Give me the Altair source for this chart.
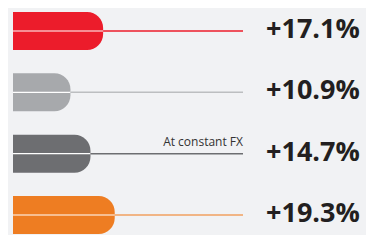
import altair as alt
import pandas as pd

categories = ["A", "B", "C", "D"]
values = [17.1, 10.9, 14.7, 19.3]
notes = ["", "", "At constant FX", ""]
bar_colors = ["#ec1c2b", "#a7a9ac", "#6d6e71", "#ee7d22"]
line_colors = ["#ec1c2b", "#bcbec0", "#6d6e71", "#f0a060"]

df = pd.DataFrame({
    "cat": categories,
    "value": values,
    "note": notes,
    "bar_color": bar_colors,
    "line_color": line_colors,
    "zero": [0] * len(values),
})

# 5.27 px per percentage point, bars starting 5 px from the left edge
x_scale = alt.Scale(domain=[-0.95, 66.98], nice=False, zero=False)
y_scale = alt.Scale(type="point", domain=categories, range=[23, 207], padding=0)

base = alt.Chart(df).encode(
    y=alt.Y("cat:N", scale=y_scale, axis=None),
)

bars = base.mark_bar(height=38, cornerRadiusTopRight=16, cornerRadiusBottomRight=16).encode(
    x=alt.X("zero:Q", scale=x_scale, axis=None),
    x2="value:Q",
    color=alt.Color("bar_color:N", scale=None),
)

inner = base.mark_rule(color="#ffffff", strokeWidth=1.2).encode(
    x=alt.X("zero:Q", scale=x_scale, axis=None),
    x2="value:Q",
)

leader = base.mark_rule(strokeWidth=1.5).encode(
    x=alt.X("value:Q", scale=x_scale, axis=None),
    x2=alt.value(235),
    color=alt.Color("line_color:N", scale=None),
)

labels = base.transform_calculate(
    label="'+' + format(datum.value, '.1f') + '%'"
).mark_text(
    align="left", baseline="middle", font="Open Sans", fontWeight="bold",
    fontSize=27, color="#231f20", dy=-1,
).encode(
    x=alt.value(258),
    text="label:N",
)

note = base.mark_text(
    align="right", baseline="bottom", font="Open Sans", fontSize=12,
    color="#333333", dy=-5,
).encode(
    x=alt.value(235),
    text="note:N",
)

chart = alt.layer(bars, inner, leader, labels, note).properties(
    width=358, height=227,
    autosize=alt.AutoSizeParams(type="none"),
    padding=0,
    background="#f1f2f4",
).configure_view(stroke=None)

chart.save("out.html", embed_options={"renderer": "svg", "actions": False})
